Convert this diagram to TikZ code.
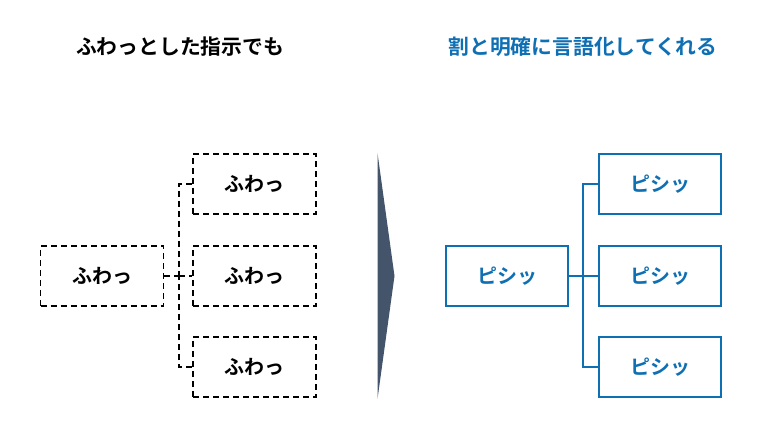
\documentclass[tikz,border=0pt]{standalone}
\usepackage{fontspec}
\setmainfont{Noto Sans CJK JP}
\newfontfamily\jpb{Noto Sans CJK JP Bold}
\definecolor{myblue}{HTML}{0F6FB3}
\definecolor{slate}{HTML}{44546A}
\begin{document}
\begin{tikzpicture}[x=1pt,y=-1pt,
  fuwa/.style={draw=black,line width=1.6pt,dash pattern=on 6pt off 4pt,minimum width=123pt,minimum height=60pt,inner sep=0pt,font=\jpb\fontsize{20}{22}\selectfont},
  pishi/.style={draw=myblue,line width=1.9pt,minimum width=122pt,minimum height=60pt,inner sep=0pt,text=myblue,font=\jpb\fontsize{20}{22}\selectfont},
  dconn/.style={draw=black,line width=1.6pt,dash pattern=on 6pt off 4pt},
  bconn/.style={draw=myblue,line width=1.9pt},
  ttl/.style={font=\jpb\fontsize{20.8}{24}\selectfont,inner sep=0pt}]
\useasboundingbox (0,0) rectangle (780,438);
\node[ttl] (t1) at (180,47) {ふわっとした指示でも};
\node[ttl,text=myblue] (t2) at (583,47) {割と明確に言語化してくれる};
% left
\node[fuwa] (L) at (102,276) {ふわっ};
\node[fuwa] (L1) at (254.5,184) {ふわっ};
\node[fuwa] (L2) at (254.5,276) {ふわっ};
\node[fuwa] (L3) at (254.5,367) {ふわっ};
\coordinate (lj) at (179,276);
\draw[dconn] (L.east) -- (lj);
\draw[dconn] (L1.west) -| (lj);
\draw[dconn] (L3.west) -| (lj);
\draw[dconn] (lj) -- (L2.west);
% arrow
\fill[slate] (377.5,153) -- (394.5,276) -- (377.5,399) -- cycle;
% right
\node[pishi] (R) at (507,276) {ピシッ};
\node[pishi] (R1) at (660,184) {ピシッ};
\node[pishi] (R2) at (660,276) {ピシッ};
\node[pishi] (R3) at (660,367) {ピシッ};
\coordinate (rj) at (583,276);
\draw[bconn] (R.east) -- (R2.west);
\draw[bconn] (R1.west) -| (rj);
\draw[bconn] (R3.west) -| (rj);
\end{tikzpicture}
\end{document}
